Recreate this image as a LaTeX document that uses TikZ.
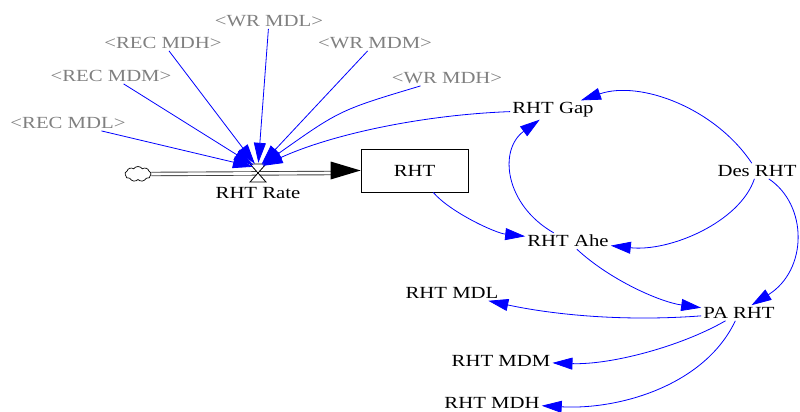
\documentclass[tikz,border=0pt]{standalone}
\usepackage{fontspec}
\setmainfont{Liberation Serif}[FakeStretch=1.22]
\usetikzlibrary{arrows.meta,shapes.symbols}
\definecolor{lblgray}{RGB}{128,128,128}
\tikzset{
  lbl/.style={inner sep=2pt, font=\fontsize{17}{19}\selectfont},
  shadow/.style={lbl, text=lblgray},
  link/.style={draw=blue, line width=0.8pt, -{Triangle[length=20pt,width=12pt]}},
}
\begin{document}
\begin{tikzpicture}[x=1pt,y=-1pt]
\useasboundingbox (0,0) rectangle (800,412);
% stock and flow
\node[draw, line width=0.8pt, minimum width=107pt, minimum height=43pt, lbl] (rht) at (414.5,170.5) {RHT};
\node[cloud, draw, line width=0.7pt, cloud puffs=9, cloud puff arc=110, minimum width=26pt, minimum height=15pt, inner sep=0pt] (cloud) at (138,174) {};
\draw[double=white, double distance=2.6pt, draw=black!75, line width=0.9pt] (cloud.east) -- (333,173);
\fill (rht.west) -- ++(-30,-9) -- ++(0,18) -- cycle;
\draw[line width=0.8pt, fill=white] (250,164) -- (266,164) -- (250,182) -- (266,182) -- cycle;
\node[circle, minimum size=10pt, inner sep=0pt] (valve) at (258,168) {};
\node[lbl] (rate) at (258,193) {RHT Rate};
% shadow variables
\node[shadow] (recmdl) at (68,123) {<REC MDL>};
\node[shadow] (recmdm) at (111,76) {<REC MDM>};
\node[shadow] (recmdh) at (163,43) {<REC MDH>};
\node[shadow] (wrmdl) at (269,21) {<WR MDL>};
\node[shadow] (wrmdm) at (375,43) {<WR MDM>};
\node[shadow] (wrmdh) at (447,78) {<WR MDH>};
% auxiliaries
\node[lbl] (gap) at (553,110) {RHT Gap};
\node[lbl] (des) at (757,171) {Des RHT};
\node[lbl] (ahe) at (568,241) {RHT Ahe};
\node[lbl] (pa) at (739,313) {PA RHT};
\node[lbl] (mdl) at (452,293) {RHT MDL};
\node[lbl] (mdm) at (501,361) {RHT MDM};
\node[lbl] (mdh) at (492,403) {RHT MDH};
% links into valve
\draw[link] (recmdl) -- (valve);
\draw[link] (recmdm) -- (valve);
\draw[link] (recmdh) -- (valve);
\draw[link] (wrmdl) -- (valve);
\draw[link] (wrmdm) -- (valve);
\draw[link] (wrmdh) .. controls (340,110) .. (valve);
\draw[link] (gap) .. controls (420,115) and (330,135) .. (valve);
% right side links
\draw[link] (rht) .. controls (450,212) and (495,233) .. (ahe);
\draw[link] (ahe) .. controls (505,205) and (498,150) .. (gap);
\draw[link] (des) .. controls (715,108) and (640,80) .. (gap);
\draw[link] (des) .. controls (740,222) and (670,252) .. (ahe);
\draw[link] (des) .. controls (808,205) and (808,270) .. (pa);
\draw[link] (ahe) .. controls (610,280) and (660,302) .. (pa);
\draw[link] (pa) .. controls (620,322) and (550,314) .. (mdl);
\draw[link] (pa) .. controls (680,347) and (610,365) .. (mdm);
\draw[link] (pa) .. controls (705,385) and (620,410) .. (mdh);
\end{tikzpicture}
\end{document}
